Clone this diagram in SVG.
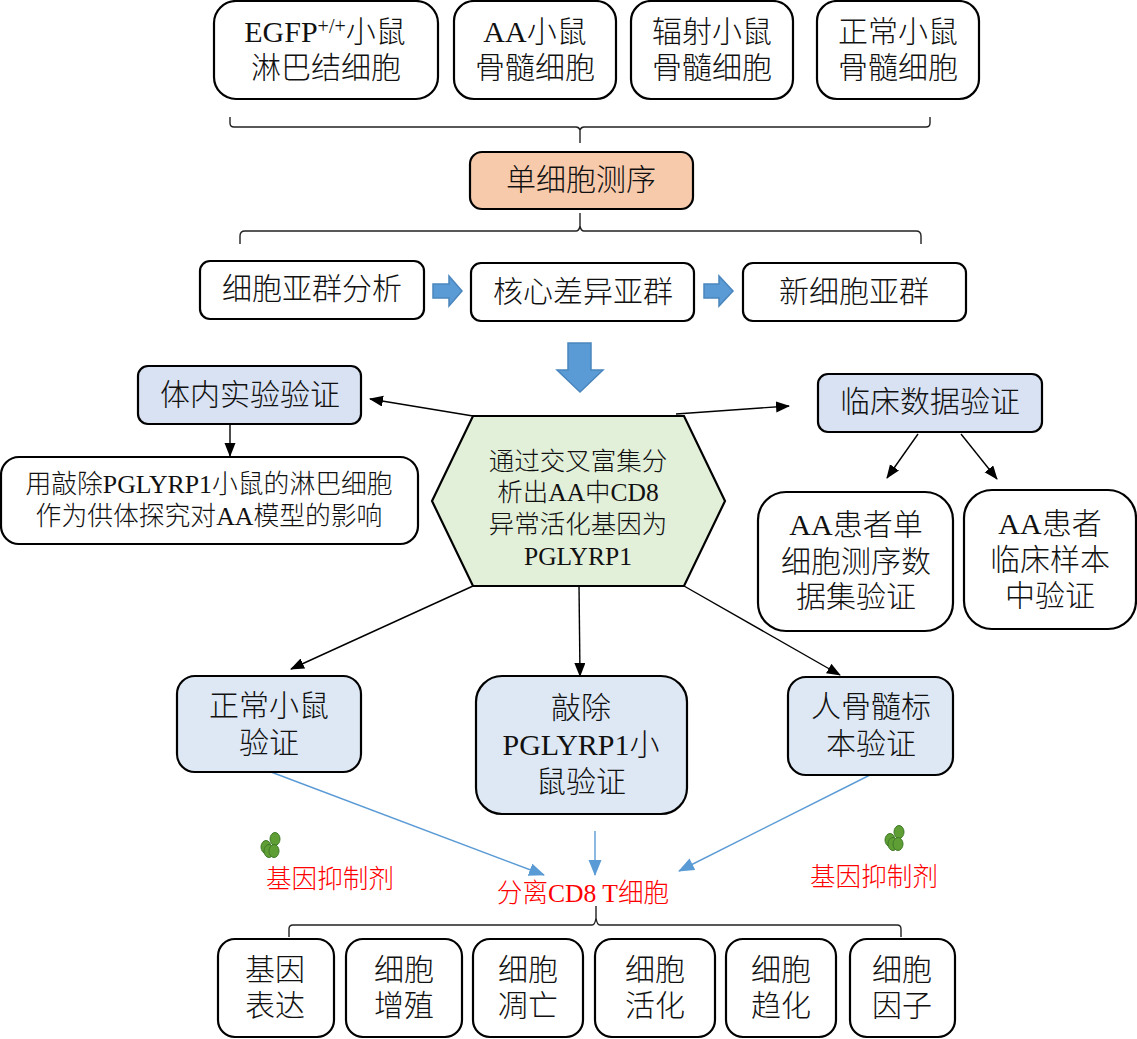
<svg xmlns="http://www.w3.org/2000/svg" width="1137" height="1039" viewBox="0 0 1137 1039">
<style>
text{font-family:"Liberation Serif","Noto Sans CJK SC",serif;text-anchor:middle;fill:#111;font-weight:300}
.t30{font-size:30px}.t25{font-size:25.8px}.t23{font-size:25.5px}
.red{fill:#f00;font-size:25.6px}
.box{stroke:#000;stroke-width:2.2;fill:#fff}
.pale{stroke:#000;stroke-width:2.2;fill:#dde8f4}
.lav{stroke:#000;stroke-width:2.2;fill:#d9e2f3}
.bl{fill:#5b9bd5;stroke:#4a86bd;stroke-width:1.5}
.ln{stroke:#000;stroke-width:1.4;fill:none}
.blue{stroke:#5b9bd5;stroke-width:1.4;fill:none}
.br{stroke:#222;stroke-width:1.4;fill:none}
.pea{fill:#5f9e35;stroke:#3f7a28;stroke-width:1}
</style>
<defs>
<marker id="a" markerWidth="14" markerHeight="12" refX="13" refY="5.5" orient="auto" markerUnits="userSpaceOnUse"><path d="M0 0L14 5.5L0 11z" fill="#000"/></marker>
<marker id="b" markerWidth="16" markerHeight="14" refX="15" refY="6.5" orient="auto" markerUnits="userSpaceOnUse"><path d="M0 0L16 6.5L0 13z" fill="#5b9bd5"/></marker>
<g id="pea"><ellipse class="pea" cx="6" cy="15" rx="5" ry="6.5"/><ellipse class="pea" cx="15" cy="7" rx="5" ry="6.5"/><ellipse class="pea" cx="9" cy="19" rx="5" ry="6.5"/><ellipse class="pea" cx="14" cy="19" rx="5" ry="6.5"/></g>
</defs>

<g id="connectors">
<path class="br" d="M230 117V123Q230 127 234 127H576Q579 127 580 130Q581 127 584 127H926Q930 127 930 123V117M580 130V143"/>
<path class="br" d="M240 244V236Q240 231 245 231H576Q579 231 580 226Q581 231 584 231H916Q921 231 921 236V244M580 213V226"/>
<path class="br" d="M289 937V929Q289 925 293 925H592Q595 925 596 918Q597 925 600 925H897Q901 925 901 929V937M596 906V918"/>
<path class="ln" marker-end="url(#a)" d="M473 416L370 399"/>
<path class="ln" marker-end="url(#a)" d="M676 414L789 406"/>
<path class="ln" marker-end="url(#a)" d="M230 424V456"/>
<path class="ln" marker-end="url(#a)" d="M918 434L887 478"/>
<path class="ln" marker-end="url(#a)" d="M961 434L997 479"/>
<path class="ln" marker-end="url(#a)" d="M473 586L291 669"/>
<path class="ln" marker-end="url(#a)" d="M579 585L580 676"/>
<path class="ln" marker-end="url(#a)" d="M684 586L840 675"/>
<path class="blue" marker-end="url(#b)" d="M271 772L544 875"/>
<path class="blue" marker-end="url(#b)" d="M595 831V875"/>
<path class="blue" marker-end="url(#b)" d="M870 775L679 871"/>
<path id="arrow-1" class="bl" d="M433 284H449V276L462 291L449 306V298H433z"/>
<path id="arrow-2" class="bl" d="M704 284H719V276L733 291L719 306V298H704z"/>
<path id="arrow-3" class="bl" d="M568 343H591V370H603L580 392L557 370H568z"/>
</g>

<g id="n1"><rect class="box" x="214" y="1" width="224" height="98" rx="22"/><text class="t30" x="325" y="42">EGFP<tspan font-size="20" dy="-9">+/+</tspan><tspan dy="9">小鼠</tspan></text><text class="t30" x="326" y="78">淋巴结细胞</text></g>
<g id="n2"><rect class="box" x="454" y="1" width="162" height="98" rx="20"/><text class="t30" x="535" y="42">AA小鼠</text><text class="t30" x="535" y="78">骨髓细胞</text></g>
<g id="n3"><rect class="box" x="631" y="1" width="162" height="98" rx="20"/><text class="t30" x="712" y="42">辐射小鼠</text><text class="t30" x="712" y="78">骨髓细胞</text></g>
<g id="n4"><rect class="box" x="817" y="1" width="162" height="98" rx="20"/><text class="t30" x="898" y="42">正常小鼠</text><text class="t30" x="898" y="78">骨髓细胞</text></g>
<g id="n5"><rect x="470" y="152" width="223" height="57" rx="12" fill="#f7caac" stroke="#000" stroke-width="2.2"/><text class="t30" x="581" y="190">单细胞测序</text></g>
<g id="n6"><rect class="box" x="200" y="261" width="224" height="58" rx="10"/><text class="t30" x="312" y="299">细胞亚群分析</text></g>
<g id="n7"><rect class="box" x="471" y="263" width="223" height="58" rx="10"/><text class="t30" x="583" y="302">核心差异亚群</text></g>
<g id="n8"><rect class="box" x="743" y="263" width="223" height="58" rx="10"/><text class="t30" x="854" y="302">新细胞亚群</text></g>
<g id="n9"><rect class="lav" x="138" y="366" width="223" height="58" rx="10"/><text class="t30" x="250" y="405">体内实验验证</text></g>
<g id="n10"><rect class="lav" x="818" y="374" width="224" height="58" rx="10"/><text class="t30" x="930" y="412">临床数据验证</text></g>
<g id="n11"><rect class="box" x="1" y="457" width="417" height="87" rx="18"/><text class="t25" x="209" y="493">用敲除PGLYRP1小鼠的淋巴细胞</text><text class="t25" x="209" y="525">作为供体探究对AA模型的影响</text></g>
<g id="n12"><path d="M473 416H684L725 501L684 586H473L432 501z" fill="#e2efd9" stroke="#000" stroke-width="2.2"/><text class="t23" x="578" y="470">通过交叉富集分</text><text class="t23" x="578" y="501">析出AA中CD8</text><text class="t23" x="578" y="533">异常活化基因为</text><text class="t23" x="578" y="565">PGLYRP1</text></g>
<g id="n13"><rect class="box" x="758" y="492" width="195" height="139" rx="28"/><text class="t30" x="856" y="535">AA患者单</text><text class="t30" x="856" y="572">细胞测序数</text><text class="t30" x="856" y="607">据集验证</text></g>
<g id="n14"><rect class="box" x="964" y="490" width="172" height="139" rx="28"/><text class="t30" x="1050" y="534">AA患者</text><text class="t30" x="1050" y="570">临床样本</text><text class="t30" x="1050" y="606">中验证</text></g>
<g id="n15"><rect class="pale" x="177" y="676" width="184" height="96" rx="18"/><text class="t30" x="269" y="716">正常小鼠</text><text class="t30" x="269" y="753">验证</text></g>
<g id="n16"><rect class="pale" x="476" y="676" width="211" height="138" rx="26"/><text class="t30" x="581" y="718">敲除</text><text class="t30" x="581" y="755">PGLYRP1小</text><text class="t30" x="581" y="792">鼠验证</text></g>
<g id="n17"><rect class="pale" x="788" y="677" width="165" height="98" rx="18"/><text class="t30" x="871" y="717">人骨髓标</text><text class="t30" x="871" y="754">本验证</text></g>
<use id="pea-l" href="#pea" x="260" y="832"/>
<use id="pea-r" href="#pea" x="884" y="825"/>
<g id="n18"><text class="red" x="330" y="888">基因抑制剂</text></g>
<g id="n19"><text class="red" x="874" y="886">基因抑制剂</text></g>
<g id="n20"><text class="red" x="583" y="902">分离CD8 T细胞</text></g>
<g id="n21"><rect class="box" x="218" y="939" width="116" height="98" rx="17"/><text class="t30" x="275" y="980">基因</text><text class="t30" x="275" y="1016">表达</text></g>
<g id="n22"><rect class="box" x="346" y="939" width="116" height="98" rx="17"/><text class="t30" x="404" y="980">细胞</text><text class="t30" x="404" y="1016">增殖</text></g>
<g id="n23"><rect class="box" x="473" y="939" width="110" height="98" rx="17"/><text class="t30" x="528" y="980">细胞</text><text class="t30" x="528" y="1016">凋亡</text></g>
<g id="n24"><rect class="box" x="595" y="939" width="120" height="98" rx="17"/><text class="t30" x="655" y="980">细胞</text><text class="t30" x="655" y="1016">活化</text></g>
<g id="n25"><rect class="box" x="726" y="939" width="110" height="98" rx="17"/><text class="t30" x="781" y="980">细胞</text><text class="t30" x="781" y="1016">趋化</text></g>
<g id="n26"><rect class="box" x="850" y="939" width="105" height="98" rx="17"/><text class="t30" x="902" y="980">细胞</text><text class="t30" x="902" y="1016">因子</text></g>
</svg>
